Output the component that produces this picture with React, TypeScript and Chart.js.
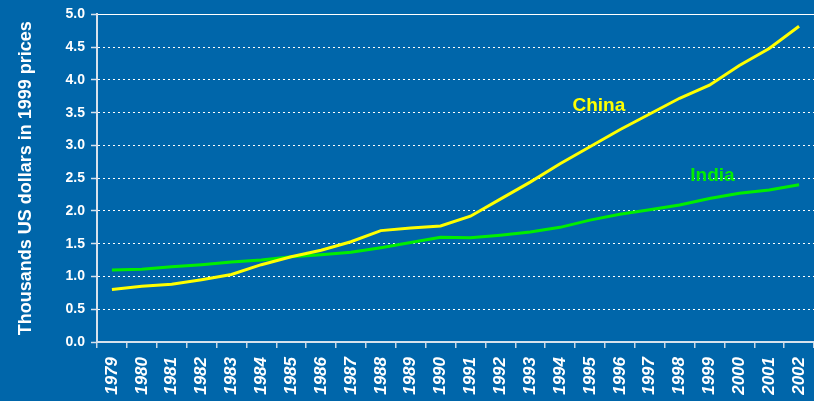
import { useEffect, useRef } from 'react';
import { Chart, registerables } from 'chart.js';

Chart.register(...registerables);

const BG = '#0066AA';
const FONT = '"Liberation Sans", Arial, Helvetica, sans-serif';

const years = [
  '1979', '1980', '1981', '1982', '1983', '1984', '1985', '1986', '1987', '1988', '1989', '1990',
  '1991', '1992', '1993', '1994', '1995', '1996', '1997', '1998', '1999', '2000', '2001', '2002',
];

const china = [
  0.80, 0.85, 0.88, 0.95, 1.03, 1.18, 1.30, 1.40, 1.53, 1.70, 1.74, 1.77,
  1.92, 2.18, 2.44, 2.72, 2.98, 3.24, 3.48, 3.72, 3.92, 4.22, 4.48, 4.82,
];

const india = [
  1.10, 1.11, 1.15, 1.18, 1.22, 1.25, 1.30, 1.33, 1.37, 1.44, 1.52, 1.60,
  1.59, 1.63, 1.68, 1.75, 1.86, 1.95, 2.02, 2.09, 2.19, 2.27, 2.32, 2.40,
];

const yMin = 0;
const yMax = 5;
const yStep = 0.5;

const seriesLabels = [
  { text: 'China', color: '#FFFF00', xIndex: 16.3, yValue: 3.6 },
  { text: 'India', color: '#00EE00', xIndex: 20.1, yValue: 2.53 },
];

export default function App() {
  const ref = useRef<HTMLCanvasElement>(null);

  useEffect(() => {
    document.body.style.margin = '0';
    document.body.style.background = BG;
    if (!ref.current) return;

    const labelPlugin = {
      id: 'seriesLabels',
      afterDatasetsDraw(chart: any) {
        const { ctx } = chart;
        const x = chart.scales.x;
        const y = chart.scales.y;
        ctx.save();
        ctx.font = `bold 19px ${FONT}`;
        ctx.textAlign = 'center';
        ctx.textBaseline = 'middle';
        for (const l of seriesLabels) {
          ctx.fillStyle = l.color;
          ctx.fillText(l.text, x.getPixelForValue(l.xIndex), y.getPixelForValue(l.yValue));
        }
        ctx.restore();
      },
    };

    const chart = new Chart(ref.current, {
      type: 'line',
      data: {
        labels: years,
        datasets: [
          {
            label: 'China',
            data: china,
            borderColor: '#FFFF00',
            borderWidth: 3,
            pointRadius: 0,
            tension: 0,
            fill: false,
          },
          {
            label: 'India',
            data: india,
            borderColor: '#00EE00',
            borderWidth: 3,
            pointRadius: 0,
            tension: 0,
            fill: false,
          },
        ],
      },
      options: {
        responsive: false,
        animation: false,
        layout: { padding: { top: 12, left: 0, right: -3, bottom: 0 } },
        plugins: {
          legend: { display: false },
          tooltip: { enabled: false },
        },
        scales: {
          x: {
            type: 'category',
            offset: true,
            grid: {
              offset: true,
              drawOnChartArea: false,
              drawTicks: true,
              tickLength: 6,
              color: '#C8D6E4',
              lineWidth: 1.5,
            },
            border: { color: '#D8E2EC', width: 2 },
            ticks: {
              color: '#FFFFFF',
              font: { family: FONT, size: 17, weight: 'bold', style: 'italic' },
              minRotation: 90,
              maxRotation: 90,
              autoSkip: false,
              padding: 9,
            },
            afterFit: (s: any) => {
              s.height = 59;
              s.paddingLeft = 0;
              s.paddingRight = 0;
            },
          },
          y: {
            min: yMin,
            max: yMax,
            ticks: {
              stepSize: yStep,
              color: '#FFFFFF',
              font: { family: FONT, size: 14, weight: 'bold' },
              padding: 6,
              callback: (v: any) => Number(v).toFixed(1),
            },
            grid: {
              color: '#FFFFFF',
              lineWidth: 1,
              drawTicks: true,
              tickLength: 6,
              tickColor: '#D8E2EC',
              tickWidth: 1.5,
            },
            border: {
              color: '#D8E2EC',
              width: 2,
              dash: (ctx: any) => (ctx.type === 'tick' && ctx.tick && ctx.tick.value !== yMax ? [2, 3] : []),
            },
            title: {
              display: true,
              text: 'Thousands US dollars in 1999 prices',
              color: '#FFFFFF',
              font: { family: FONT, size: 18, weight: 'bold' },
              padding: { top: 15, bottom: 0 },
            },
            afterFit: (s: any) => {
              s.width = 97;
            },
          },
        },
      },
      plugins: [labelPlugin],
    } as any);

    return () => chart.destroy();
  }, []);

  return (
    <div style={{ width: 814, height: 401, background: BG }}>
      <canvas ref={ref} width={814} height={401} style={{ display: 'block' }} />
    </div>
  );
}
